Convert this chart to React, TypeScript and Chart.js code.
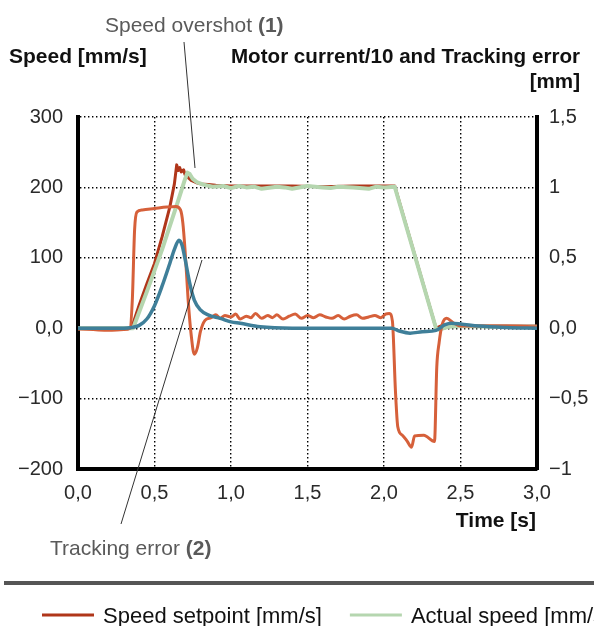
import React, { useEffect, useRef } from "react";
import { Chart, registerables } from "chart.js";

Chart.register(...registerables);

// ---- Data ----
// Speed setpoint [mm/s] (left axis)
const spTime = [0, 0.35, 0.40, 0.45, 0.50, 0.55, 0.60, 0.63, 0.645, 0.655, 0.665, 0.675, 0.69, 0.70, 0.72, 0.74, 0.77, 0.80, 0.85, 0.90, 1.00, 1.20, 1.40, 1.60, 1.80, 2.00, 2.07, 2.34, 2.37, 2.45, 2.60, 3.00];
const spVal = [0, 0, 33, 63, 92, 130, 172, 205, 232, 224, 228, 222, 225, 218, 214, 210, 207, 205, 204, 203, 202, 202, 202, 201, 202, 202, 202, 0, 3, 4, 3, 3];

// Actual speed [mm/s] (left axis)
const asTime = [0, 0.36, 0.45, 0.55, 0.65, 0.70, 0.715, 0.73, 0.75, 0.78, 0.82, 0.88, 0.95, 1.00, 1.05, 1.10, 1.15, 1.20, 1.30, 1.35, 1.40, 1.50, 1.60, 1.65, 1.70, 1.80, 1.90, 1.95, 2.00, 2.07, 2.34, 2.36, 2.42, 2.50, 2.70, 3.00];
const asVal = [0, 0, 52, 112, 178, 212, 221, 219, 212, 207, 204, 201, 202, 199, 202, 200, 201, 198, 201, 200, 198, 202, 200, 199, 201, 200, 198, 201, 200, 201, 0, -2, 2, 3, 2, 2];

// Motor current/10 (right axis)
const mcTime = [0, 0.1, 0.2, 0.3, 0.34, 0.355, 0.37, 0.385, 0.42, 0.5, 0.58, 0.64, 0.67, 0.685, 0.70, 0.72, 0.74, 0.76, 0.78, 0.80, 0.83, 0.87, 0.90, 0.93, 0.96, 1.00, 1.03, 1.06, 1.10, 1.13, 1.16, 1.20, 1.24, 1.27, 1.30, 1.34, 1.38, 1.42, 1.46, 1.50, 1.54, 1.58, 1.62, 1.66, 1.70, 1.74, 1.78, 1.82, 1.86, 1.90, 1.94, 1.98, 2.01, 2.035, 2.055, 2.075, 2.09, 2.12, 2.15, 2.18, 2.20, 2.26, 2.33, 2.345, 2.36, 2.38, 2.41, 2.45, 2.50, 2.60, 2.80, 3.00];
const mcVal = [-0.005, -0.01, -0.015, -0.01, 0, 0.2, 0.7, 0.825, 0.84, 0.85, 0.86, 0.865, 0.84, 0.75, 0.55, 0.2, -0.05, -0.185, -0.14, -0.025, 0.055, 0.075, 0.095, 0.07, 0.09, 0.08, 0.1, 0.065, 0.085, 0.075, 0.105, 0.07, 0.09, 0.075, 0.095, 0.065, 0.085, 0.1, 0.07, 0.09, 0.075, 0.095, 0.08, 0.07, 0.09, 0.065, 0.085, 0.095, 0.07, 0.08, 0.09, 0.075, 0.1, 0.105, 0.05, -0.45, -0.7, -0.76, -0.8, -0.845, -0.765, -0.76, -0.805, -0.275, -0.105, 0.025, 0.07, 0.04, 0.015, 0.015, 0.015, 0.01];

// Tracking error [mm] (right axis)
const teTime = [0, 0.30, 0.35, 0.40, 0.45, 0.50, 0.55, 0.60, 0.63, 0.66, 0.68, 0.70, 0.73, 0.76, 0.80, 0.85, 0.93, 1.00, 1.06, 1.19, 1.40, 2.05, 2.10, 2.17, 2.25, 2.34, 2.40, 2.44, 2.50, 2.62, 2.80, 3.00];
const teVal = [0, 0, 0.005, 0.02, 0.065, 0.16, 0.3, 0.46, 0.56, 0.625, 0.59, 0.49, 0.32, 0.2, 0.13, 0.095, 0.07, 0.045, 0.035, 0.01, 0, 0, -0.02, -0.035, -0.025, -0.015, 0.025, 0.035, 0.03, 0.015, 0.005, 0];

const seriesNames = ["Speed setpoint [mm/s]", "Actual speed [mm/s]", "Motor current/10 [A]", "Tracking error [mm]"];
const seriesColors = ["#B0361A", "#B5D6AF", "#D6603A", "#3F7F99"];

const xTicks = [0, 0.5, 1, 1.5, 2, 2.5, 3];
const leftTicks = [-200, -100, 0, 100, 200, 300];
const rightTicks = [-1, -0.5, 0, 0.5, 1, 1.5];

const FONT = '"Liberation Sans", Arial, Helvetica, sans-serif';

const toPts = (t: number[], v: number[]) => t.map((x, i) => ({ x, y: v[i] }));

const fmtComma = (v: number, digits: number) => {
  const s = Math.abs(v).toFixed(digits).replace(".", ",");
  return v < 0 ? "\u2212" + s : s;
};

const decorPlugin = {
  id: "decor",
  afterDraw(chart: any) {
    const ctx = chart.ctx as CanvasRenderingContext2D;
    ctx.save();
    // axis titles
    ctx.fillStyle = "#111";
    ctx.textBaseline = "alphabetic";
    ctx.textAlign = "left";
    ctx.font = `bold 21px ${FONT}`;
    ctx.fillText("Speed [mm/s]", 9, 63);
    ctx.textAlign = "right";
    ctx.font = `bold 20.6px ${FONT}`;
    ctx.fillText("Motor current/10 and Tracking error", 580, 63);
    ctx.fillText("[mm]", 580, 88);
    ctx.font = `bold 21px ${FONT}`;
    ctx.fillText("Time [s]", 536, 527);

    // annotations
    const note = (a: string, b: string, x: number, y: number) => {
      ctx.textAlign = "left";
      ctx.fillStyle = "#5a5a5a";
      ctx.font = `21px ${FONT}`;
      ctx.fillText(a, x, y);
      const w = ctx.measureText(a).width;
      ctx.font = `bold 21px ${FONT}`;
      ctx.fillText(b, x + w, y);
    };
    note("Speed overshot ", "(1)", 105, 32);
    note("Tracking error ", "(2)", 50, 555);

    ctx.strokeStyle = "#333";
    ctx.lineWidth = 1;
    ctx.beginPath();
    ctx.moveTo(184, 42);
    ctx.lineTo(195, 168);
    ctx.moveTo(202, 260);
    ctx.lineTo(121, 524);
    ctx.stroke();

    // separator
    ctx.fillStyle = "#555";
    ctx.fillRect(4, 581, 600, 4);

    // legend
    ctx.font = `22px ${FONT}`;
    ctx.textAlign = "left";
    let x = 42;
    seriesNames.forEach((name, i) => {
      ctx.strokeStyle = seriesColors[i];
      ctx.lineWidth = 3;
      ctx.beginPath();
      ctx.moveTo(x, 615);
      ctx.lineTo(x + 52, 615);
      ctx.stroke();
      ctx.fillStyle = "#111";
      ctx.fillText(name, x + 61, 623);
      x = x + 61 + ctx.measureText(name).width + 28;
    });
    ctx.restore();
  },
};

export default function App() {
  const ref = useRef<HTMLCanvasElement | null>(null);

  useEffect(() => {
    if (!ref.current) return;
    const chart = new Chart(ref.current, {
      type: "line",
      data: {
        datasets: [
          {
            label: seriesNames[0],
            data: toPts(spTime, spVal),
            borderColor: seriesColors[0],
            borderWidth: 3,
            yAxisID: "y",
            order: 3,
            cubicInterpolationMode: "default",
            tension: 0,
            borderJoinStyle: "round",
          },
          {
            label: seriesNames[1],
            data: toPts(asTime, asVal),
            borderColor: seriesColors[1],
            borderWidth: 4,
            yAxisID: "y",
            order: 2,
            cubicInterpolationMode: "default",
            tension: 0,
            borderJoinStyle: "round",
          },
          {
            label: seriesNames[2],
            data: toPts(mcTime, mcVal),
            borderColor: seriesColors[2],
            borderWidth: 3,
            yAxisID: "y1",
            order: 1,
          },
          {
            label: seriesNames[3],
            data: toPts(teTime, teVal),
            borderColor: seriesColors[3],
            borderWidth: 3.5,
            yAxisID: "y1",
            order: 0,
          },
        ],
      },
      options: {
        animation: false,
        responsive: false,
        events: [],
        elements: {
          point: { radius: 0 },
          line: { cubicInterpolationMode: "monotone", fill: false },
        },
        layout: { padding: { top: 117, left: 0, right: 0, bottom: 0 } },
        plugins: {
          legend: { display: false },
          tooltip: { enabled: false },
          title: { display: false },
        },
        scales: {
          x: {
            type: "linear",
            min: 0,
            max: 3,
            afterBuildTicks: (s: any) => {
              s.ticks = xTicks.map((v) => ({ value: v }));
            },
            afterFit: (s: any) => {
              s.height = 157;
            },
            ticks: {
              callback: (v: any) => fmtComma(Number(v), 1),
              font: { family: FONT, size: 20 },
              color: "#2a2a2a",
              padding: 12,
              maxRotation: 0,
              autoSkip: false,
            },
            grid: { display: true, color: "#000", lineWidth: 1.4, drawTicks: false },
            border: { display: true, width: 4, color: "#000", dash: [1.4, 2.6] },
          },
          y: {
            type: "linear",
            position: "left",
            min: -200,
            max: 300,
            afterBuildTicks: (s: any) => {
              s.ticks = leftTicks.map((v) => ({ value: v }));
            },
            afterFit: (s: any) => {
              s.width = 78;
            },
            ticks: {
              callback: (v: any) => (Number(v) === 0 ? "0,0" : fmtComma(Number(v), 0)),
              font: { family: FONT, size: 20 },
              color: "#2a2a2a",
              padding: 15,
              autoSkip: false,
            },
            grid: { display: true, color: "#000", lineWidth: 1.4, drawTicks: false },
            border: { display: true, width: 4, color: "#000", dash: [1.4, 2.6] },
          },
          y1: {
            type: "linear",
            position: "right",
            min: -1,
            max: 1.5,
            afterBuildTicks: (s: any) => {
              s.ticks = rightTicks.map((v) => ({ value: v }));
            },
            afterFit: (s: any) => {
              s.width = 57;
            },
            ticks: {
              callback: (v: any) => {
                const n = Number(v);
                if (n === 0) return "0,0";
                if (Number.isInteger(n)) return fmtComma(n, 0);
                return fmtComma(n, 1);
              },
              font: { family: FONT, size: 20 },
              color: "#2a2a2a",
              padding: 12,
              autoSkip: false,
            },
            grid: { display: false, drawTicks: false },
            border: { display: true, width: 4, color: "#000" },
          },
        },
      },
      plugins: [decorPlugin],
    } as any);
    return () => chart.destroy();
  }, []);

  return (
    <div style={{ position: "absolute", left: 0, top: 0, width: 594, height: 626, overflow: "hidden", background: "#fff" }}>
      <canvas ref={ref} width={594} height={626} style={{ width: 594, height: 626, display: "block" }} />
    </div>
  );
}
